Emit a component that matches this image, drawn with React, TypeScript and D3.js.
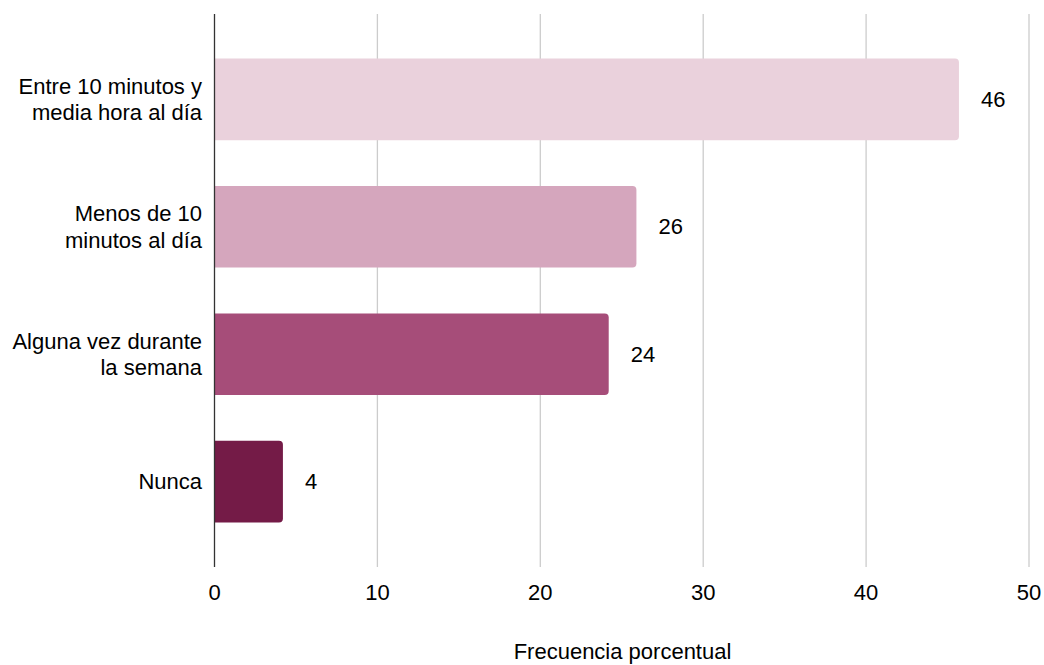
import React from "react";
import * as d3 from "d3";

const categories = [
  "Entre 10 minutos y\nmedia hora al día",
  "Menos de 10\nminutos al día",
  "Alguna vez durante\nla semana",
  "Nunca",
];
const values = [45.7, 25.9, 24.2, 4.2];
const colors = ["#ead1dc", "#d5a6bd", "#a64d79", "#741b47"];
const xTicks = [0, 10, 20, 30, 40, 50];
const xTitle = "Frecuencia porcentual";

const W = 1044;
const H = 665;
const left = 214.5;
const right = 1029;
const top = 14;
const bottom = 567;
const FONT = "'Liberation Sans', Arial, sans-serif";
const FS = 22;

function barPath(x0: number, y0: number, x1: number, y1: number, r: number) {
  const p = d3.path();
  p.moveTo(x0, y0);
  p.lineTo(x1 - r, y0);
  p.arcTo(x1, y0, x1, y0 + r, r);
  p.lineTo(x1, y1 - r);
  p.arcTo(x1, y1, x1 - r, y1, r);
  p.lineTo(x0, y1);
  p.closePath();
  return p.toString();
}

export default function App() {
  const x = d3.scaleLinear().domain([0, 50]).range([left, right]);
  const y = d3
    .scaleBand<number>()
    .domain(categories.map((_, i) => i))
    .range([top, bottom])
    .paddingInner(0.36)
    .paddingOuter(0.35);

  return (
    <svg
      width={W}
      height={H}
      style={{ position: "absolute", left: 0, top: 0, display: "block", background: "#fff" }}
      fontFamily={FONT}
    >
      <rect x={0} y={0} width={W} height={H} fill="#fff" />
      {xTicks.slice(1).map((t) => (
        <line key={t} x1={x(t)} x2={x(t)} y1={top} y2={bottom} stroke="#cccccc" strokeWidth={1.3} />
      ))}
      {values.map((v, i) => {
        const y0 = y(i)!;
        return (
          <path
            key={i}
            d={barPath(x(0), y0, x(v), y0 + y.bandwidth(), 4)}
            fill={colors[i]}
          />
        );
      })}
      <line x1={left} x2={left} y1={top} y2={bottom} stroke="#333333" strokeWidth={1.3} />
      {values.map((v, i) => (
        <text
          key={i}
          x={x(v) + 22}
          y={y(i)! + y.bandwidth() / 2}
          dy="0.35em"
          fontSize={FS}
          fill="#000"
        >
          {Math.round(v)}
        </text>
      ))}
      {categories.map((c, i) => {
        const lines = c.split("\n");
        const cy = y(i)! + y.bandwidth() / 2;
        const lh = 26.4;
        const start = cy - ((lines.length - 1) * lh) / 2;
        return (
          <text key={i} x={202} textAnchor="end" fontSize={FS} fill="#000">
            {lines.map((l, j) => (
              <tspan key={j} x={202} y={start + j * lh} dy="0.35em">
                {l}
              </tspan>
            ))}
          </text>
        );
      })}
      {xTicks.map((t) => (
        <text key={t} x={x(t)} y={600} textAnchor="middle" fontSize={FS} fill="#000">
          {t}
        </text>
      ))}
      <text x={622.5} y={659} textAnchor="middle" fontSize={FS} fill="#000">
        {xTitle}
      </text>
    </svg>
  );
}
